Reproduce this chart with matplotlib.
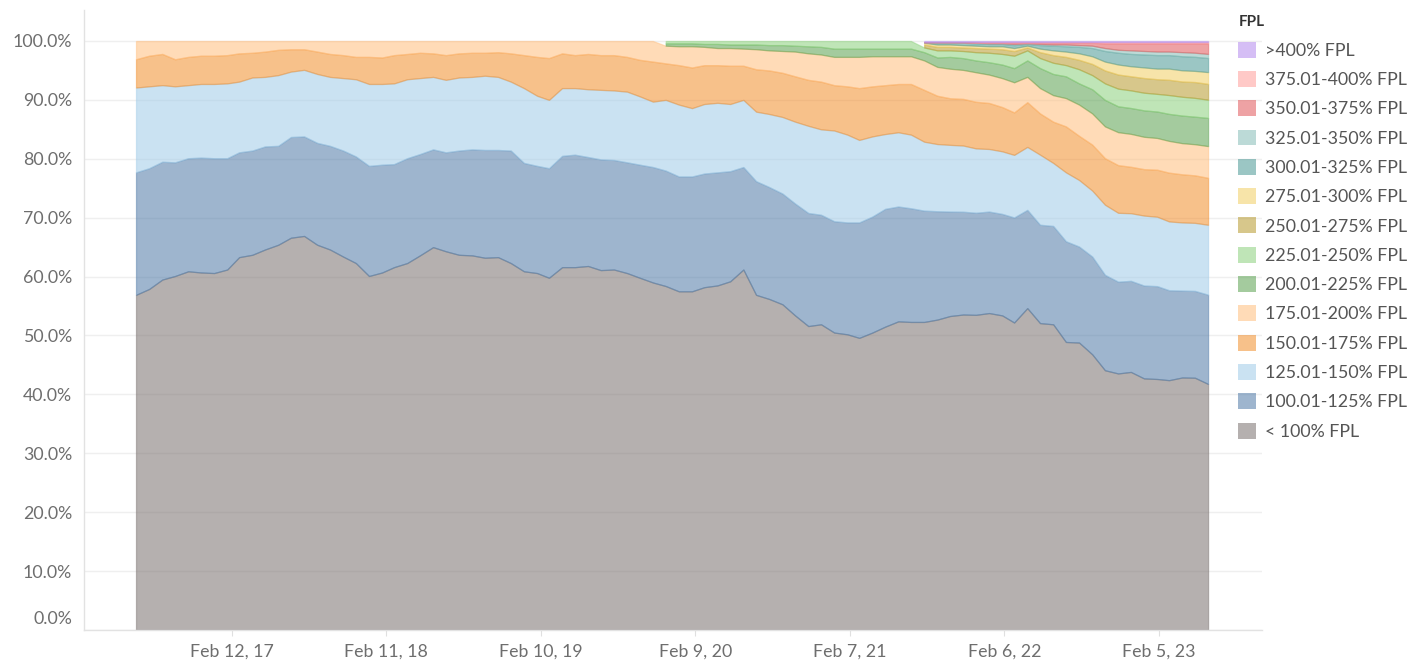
import numpy as np
import pandas as pd
import matplotlib
matplotlib.use("Agg")
import matplotlib.pyplot as plt
import matplotlib.dates as mdates
import matplotlib.transforms as mtransforms
from matplotlib.patches import Patch

plt.rcParams['font.family'] = ['Lato', 'DejaVu Sans']

months = pd.date_range('2016-07-01', periods=84, freq='MS')
N = None

lt100 = [56.9, 57.9, 59.5, 60.1, 60.9, 60.7, 60.6, 61.2, 63.3, 63.7, 64.6, 65.4, 66.6, 66.9, 65.4, 64.6, 63.4, 62.3, 60.1, 60.7, 61.6,
         62.3, 63.6, 65.0, 64.3, 63.7, 63.6, 63.2, 63.3, 62.3, 60.9, 60.6, 59.8, 61.6, 61.6, 61.8, 61.1, 61.2, 60.6, 59.8, 59.0, 58.4,
         57.5, 57.5, 58.2, 58.5, 59.2, 61.2, 56.9, 56.2, 55.3, 53.4, 51.6, 51.9, 50.5, 50.2, 49.6, 50.5, 51.5, 52.4, 52.3, 52.3, 52.7,
         53.2, 53.4, 53.4, 53.7, 53.3, 52.1, 54.7, 52.1, 51.9, 48.9, 48.8, 46.8, 44.1, 43.6, 43.9, 42.8, 42.7, 42.5, 43.0, 43.0, 41.9]
p100_125 = [20.8, 20.5, 20.0, 19.3, 19.2, 19.5, 19.5, 18.9, 17.8, 17.7, 17.5, 16.8, 17.1, 16.9, 17.3, 17.6, 18.0, 18.1, 18.7, 18.3, 17.5,
            17.8, 17.2, 16.6, 16.8, 17.7, 18.0, 18.3, 18.2, 19.1, 18.4, 18.2, 18.6, 18.9, 19.1, 18.5, 18.8, 18.6, 18.8, 19.2, 19.6, 19.6,
            19.5, 19.5, 19.3, 19.2, 18.7, 17.4, 19.3, 19.0, 18.8, 19.0, 19.2, 18.6, 18.9, 19.0, 19.6, 19.7, 20.0, 19.5, 19.3, 18.9, 18.4,
            17.7, 17.4, 17.3, 17.2, 17.2, 17.8, 16.7, 16.7, 16.7, 17.1, 16.3, 16.6, 16.2, 15.6, 15.5, 15.8, 15.8, 15.3, 14.8, 14.8, 15.2]
p125_150 = [14.4, 13.9, 13.0, 12.9, 12.4, 12.5, 12.6, 12.7, 12.0, 12.4, 11.8, 12.0, 11.1, 11.3, 11.7, 11.7, 12.3, 13.1, 13.9, 13.7, 13.7,
            13.4, 12.9, 12.3, 12.3, 12.4, 12.3, 12.6, 12.4, 11.7, 12.7, 11.9, 11.6, 11.5, 11.3, 11.5, 11.8, 11.8, 12.0, 11.6, 11.1, 12.0,
            12.2, 11.6, 11.8, 11.8, 11.4, 11.4, 11.8, 12.4, 13.0, 13.9, 14.8, 14.5, 15.4, 14.9, 14.0, 13.6, 12.7, 12.6, 12.5, 11.7, 11.4,
            11.3, 11.2, 10.9, 10.6, 10.6, 10.6, 10.7, 11.9, 10.7, 11.7, 11.3, 11.2, 11.9, 11.7, 11.5, 11.9, 11.8, 11.7, 11.6, 11.6, 11.9]
p150_175 = [4.8, 5.2, 5.3, 4.6, 4.8, 4.8, 4.8, 4.8, 4.8, 4.2, 4.3, 4.3, 3.8, 3.5, 3.8, 3.9, 3.9, 3.8, 4.6, 4.5, 4.8,
            4.3, 4.3, 4.0, 4.2, 4.1, 4.1, 3.9, 4.2, 4.8, 5.6, 6.6, 7.1, 5.9, 5.6, 6.0, 5.9, 6.0, 5.9, 6.2, 6.8, 6.2,
            6.7, 6.9, 6.6, 6.4, 6.5, 5.8, 7.2, 7.4, 7.5, 7.7, 7.8, 8.1, 7.7, 8.2, 8.8, 8.5, 8.3, 8.2, 8.6, 8.8, 8.2,
            7.9, 7.9, 7.9, 7.8, 7.5, 7.2, 7.6, 7.0, 7.0, 7.8, 7.5, 7.8, 7.9, 8.1, 7.9, 7.9, 8.0, 8.3, 8.2, 8.1, 8.0]
p175_200 = [3.1, 2.5, 2.2, 3.1, 2.7, 2.5, 2.5, 2.4, 2.1, 2.0, 1.8, 1.5, 1.4, 1.4, 1.8, 2.2, 2.4, 2.7, 2.7, 2.8, 2.4,
            2.2, 2.0, 2.1, 2.4, 2.1, 2.0, 2.0, 1.9, 2.1, 2.4, 2.7, 2.9, 2.1, 2.4, 2.2, 2.4, 2.4, 2.7, 3.2, 3.5, 3.0,
            3.2, 3.6, 3.1, 2.9, 3.0, 2.9, 3.4, 3.4, 3.7, 4.2, 4.5, 4.6, 4.8, 5.0, 5.3, 5.1, 4.9, 4.7, 4.7, 5.0, 4.9,
            5.0, 4.9, 5.0, 4.8, 4.9, 5.1, 4.3, 4.3, 4.5, 4.8, 5.3, 5.3, 5.4, 5.6, 5.6, 5.5, 5.4, 5.4, 5.3, 5.3, 5.4]
p200_225 = [N] * 41 + [0.4, 0.5, 0.5, 0.5, 0.7, 0.6, 0.7, 0.8, 0.9, 1.0, 1.0, 1.2, 1.3, 1.4, 1.4, 1.4, 1.3, 1.3, 1.3, 1.3, 1.4, 1.6,
                       2.0, 2.0, 2.0, 2.1, 2.3, 2.4, 2.8, 3.4, 3.6, 3.7, 3.6, 4.1, 4.5, 4.4, 4.4, 4.5, 4.5, 4.6, 4.7, 4.7, 4.8]
p225_250 = [N] * 41 + [0.4, 0.4, 0.4, 0.5, 0.5, 0.6, 0.6, 0.6, 0.7, 0.7, 0.8, 0.9, 1.0, 1.3, 1.3, 1.3, 1.3, 1.3, 1.3, 1.3, 0.8, 1.2,
                       1.1, 1.2, 1.4, 1.6, 1.8, 2.1, 1.7, 1.7, 1.9, 1.9, 2.4, 2.4, 2.8, 3.0, 3.0, 3.0, 3.0, 3.2, 3.2, 3.2, 3.1]
p250_275 = [N] * 61 + [0.5, 0.6, 0.6, 0.6, 0.7, 0.7, 0.8, 0.8, 0.5, 1.0, 1.3, 1.4, 1.6, 1.9, 2.2, 2.4, 2.4, 2.5, 2.5, 2.6, 2.6, 2.7, 2.7]
p275_300 = [N] * 61 + [0.3, 0.4, 0.4, 0.4, 0.4, 0.4, 0.5, 0.5, 0.3, 0.6, 0.8, 0.9, 1.1, 1.3, 1.5, 1.7, 1.7, 1.8, 1.8, 1.9, 1.9, 1.9, 2.0]
p300_325 = [N] * 61 + [0.1, 0.3, 0.3, 0.4, 0.4, 0.4, 0.4, 0.5, 0.3, 0.6, 0.8, 0.9, 1.1, 1.4, 1.8, 2.0, 2.1, 2.2, 2.3, 2.3, 2.4, 2.4, 2.4]
p325_350 = [N] * 61 + [0.0, 0.1, 0.1, 0.1, 0.1, 0.1, 0.1, 0.2, 0.1, 0.2, 0.2, 0.3, 0.3, 0.4, 0.5, 0.5, 0.6, 0.6, 0.6, 0.6, 0.7, 0.7, 0.7]
p350_375 = [N] * 61 + [0.0, 0.0, 0.0, 0.0, 0.0, 0.1, 0.1, 0.2, 0.1, 0.2, 0.3, 0.3, 0.4, 0.5, 0.8, 1.1, 1.2, 1.3, 1.4, 1.4, 1.5, 1.6, 1.8]
p375_400 = [N] * 61 + [0.0, 0.0, 0.0, 0.0, 0.1, 0.1, 0.1, 0.1, 0.1, 0.1, 0.1, 0.1, 0.1, 0.1, 0.2, 0.2, 0.2, 0.2, 0.2, 0.2, 0.2, 0.2, 0.2]
p400 = [N] * 61 + [0.2] * 23

series = [
    ('< 100% FPL', lt100, '#79706E'),
    ('100.01-125% FPL', p100_125, '#4E79A7'),
    ('125.01-150% FPL', p125_150, '#A0CBE8'),
    ('150.01-175% FPL', p150_175, '#F28E2B'),
    ('175.01-200% FPL', p175_200, '#FFBE7D'),
    ('200.01-225% FPL', p200_225, '#59A14F'),
    ('225.01-250% FPL', p225_250, '#8CD17D'),
    ('250.01-275% FPL', p250_275, '#B6992D'),
    ('275.01-300% FPL', p275_300, '#F1CE63'),
    ('300.01-325% FPL', p300_325, '#499894'),
    ('325.01-350% FPL', p325_350, '#86BCB6'),
    ('350.01-375% FPL', p350_375, '#E15759'),
    ('375.01-400% FPL', p375_400, '#FF9D9A'),
    ('>400% FPL', p400, '#B48AEE'),
]
tick_dates = pd.to_datetime(['2017-02-12', '2018-02-11', '2019-02-10', '2020-02-09',
                             '2021-02-07', '2022-02-06', '2023-02-05'])
tick_labels = ['Feb 12, 17', 'Feb 11, 18', 'Feb 10, 19', 'Feb 9, 20',
               'Feb 7, 21', 'Feb 6, 22', 'Feb 5, 23']

vals = np.array([[np.nan if v is None else v for v in s[1]] for s in series], dtype=float)
total = np.nansum(vals, axis=0)
share = vals / total * 100.0

W, H = 1423, 664
fig = plt.figure(figsize=(W / 100, H / 100), dpi=100)
ax = fig.add_axes([84 / W, 1 - 630 / H, (1262 - 84) / W, (630 - 10) / H])

x = mdates.date2num(months)
base = np.zeros(len(x))
ALPHA = 0.55
handles = []
for (name, _, col), sh in zip(series, share):
    valid = ~np.isnan(sh)
    lower = base.copy()
    upper = base + np.where(valid, sh, 0)
    lo = np.where(valid, lower, np.nan)
    up = np.where(valid, upper, np.nan)
    ax.fill_between(x, lo, up, facecolor=matplotlib.colors.to_rgba(col, ALPHA),
                    edgecolor=matplotlib.colors.to_rgba(col, 0.45), linewidth=0.9, zorder=2)
    base = upper
    handles.append(Patch(facecolor=matplotlib.colors.to_rgba(col, ALPHA), edgecolor='none', label=name))

ax.set_xlim(x[0] - 122.5, x[-1] + 127)
ax.set_ylim(0, 105.26)
ax.set_yticks(np.arange(0, 101, 10))
ax.set_yticklabels([f'{v:.1f}%' for v in range(0, 101, 10)])
ax.set_xticks(mdates.date2num(tick_dates))
ax.set_xticklabels(tick_labels)

ax.grid(axis='y', color='#efefef', linewidth=1, zorder=0)
ax.set_axisbelow(True)
for s in ['top', 'right']:
    ax.spines[s].set_visible(False)
for s in ['left', 'bottom']:
    ax.spines[s].set_color('#e2e2e2')
    ax.spines[s].set_linewidth(1)
ax.tick_params(axis='y', length=0, pad=8.5, labelsize=12.8, labelcolor='#6e6e6e')
ax.tick_params(axis='x', length=4, color='#e0e0e0', pad=6, labelsize=12.8, labelcolor='#6e6e6e')

offset = mtransforms.ScaledTranslation(0, 13 / 100, fig.dpi_scale_trans)
lab0 = ax.yaxis.get_major_ticks()[0].label1
lab0.set_transform(lab0.get_transform() + offset)

leg = fig.legend(handles=handles[::-1], loc='upper left', bbox_to_anchor=(1233 / W, 1 - 10 / H),
                 frameon=False, title='FPL', fontsize=12.8, title_fontsize=11,
                 handlelength=1.0, handleheight=1.0, handletextpad=0.5, labelspacing=0.69,
                 borderaxespad=0, borderpad=0.3, alignment='left')
for t in leg.get_texts():
    t.set_color('#555555')
leg.get_title().set_color('#333333')
leg.get_title().set_fontweight('bold')

fig.savefig('out.png', dpi=100)
